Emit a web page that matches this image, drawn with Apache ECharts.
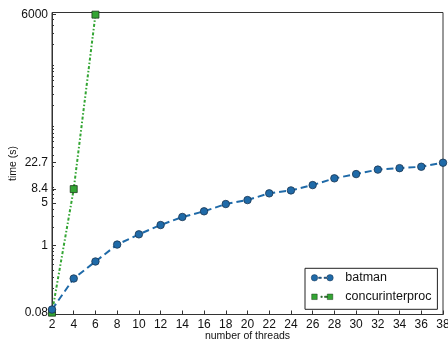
<!DOCTYPE html>
<html><head><meta charset="utf-8">
<script src="https://cdn.jsdelivr.net/npm/echarts@6/dist/echarts.min.js"></script>
<style>html,body{margin:0;padding:0;background:#fff}#c{width:448px;height:340px}</style>
</head><body><div id="c"></div>
<script>
const threads = [2,4,6,8,10,12,14,16,18,20,22,24,26,28,30,32,34,36,38];
const batman = [0.09,0.29,0.55,1.04,1.53,2.17,2.94,3.64,4.79,5.56,7.16,8.0,9.78,12.6,14.8,17.5,18.5,19.5,22.7];
const concurThreads = [2,4,6];
const concur = [0.08,8.4,6000];
const yTickLabels = [0.08,1,5,8.4,22.7,6000];
const yMinorTicks = [0.09,0.2,0.3,0.4,0.5,0.6,0.7,0.8,0.9,2,3,4,6,7,8,9,20,30,40,50,60,70,80,90,200,300,400,500,600,700,800,900,2000,3000,4000,5000];
const xTicks = [2,4,6,8,10,12,14,16,18,20,22,24,26,28,30,32,34,36,38];

const FONT = 'Liberation Sans';
const blue = '#1f6aa8', green = '#33a533';
const circIcon = 'path://M0,3.5 A3.5,3.5 0 1,0 7,3.5 A3.5,3.5 0 1,0 0,3.5 Z M8,2.75 L11,2.75 L11,4.25 L8,4.25 Z M14,2.75 L18,2.75 L18,4.25 L14,4.25 Z M17,3.5 A3.5,3.5 0 1,0 24,3.5 A3.5,3.5 0 1,0 17,3.5 Z';
const sqIcon = 'path://M0.5,0.5 L6.5,0.5 L6.5,6.5 L0.5,6.5 Z M10.5,2.75 L12,2.75 L12,4.25 L10.5,4.25 Z M14.5,2.75 L17.5,2.75 L17.5,4.25 L14.5,4.25 Z M17.5,0.5 L23.5,0.5 L23.5,6.5 L17.5,6.5 Z M0,0 L0.01,0 L0.01,0.01 Z M24,7 L23.99,7 L23.99,6.99 Z';

const chart = echarts.init(document.getElementById('c'), null, {renderer:'canvas'});
chart.setOption({
  animation: false,
  backgroundColor: '#fff',
  textStyle: {fontFamily: FONT},
  grid: {left: 52, right: 5, top: 12.5, bottom: 25.5, containLabel: false, outerBoundsMode: 'none',
    show: true, borderColor: '#333', borderWidth: 1, backgroundColor: 'transparent'},
  xAxis: {
    type: 'value', min: 2, max: 38, interval: 2,
    name: 'number of threads', nameLocation: 'middle', nameGap: 16.5, nameMoveOverlap: false,
    nameTextStyle: {fontFamily: FONT, fontSize: 10.5, color: '#111'},
    axisLine: {lineStyle: {color: '#333', width: 1}},
    axisTick: {inside: true, length: 4, lineStyle: {color: '#333'}, customValues: xTicks},
    axisLabel: {fontFamily: FONT, fontSize: 12, color: '#111', margin: 4, customValues: xTicks, hideOverlap: false},
    splitLine: {show: false}
  },
  yAxis: [{
    type: 'log', logBase: 10, min: 0.0747, max: 6500,
    name: 'time (s)', nameLocation: 'middle', nameGap: 33, nameMoveOverlap: false,
    nameTextStyle: {fontFamily: FONT, fontSize: 10.5, color: '#111'},
    axisLine: {show: true, lineStyle: {color: '#333', width: 1}},
    axisTick: {inside: true, length: 4, lineStyle: {color: '#333'}, customValues: yTickLabels},
    axisLabel: {fontFamily: FONT, fontSize: 12, color: '#111', margin: 4, customValues: yTickLabels, hideOverlap: false,
      formatter: v => String(+(+v).toPrecision(6))},
    splitLine: {show: false}
  },{
    type: 'log', logBase: 10, min: 0.0747, max: 6500, position: 'left',
    axisLine: {show: false},
    axisTick: {show: true, inside: true, length: 2, lineStyle: {color: '#333'}, customValues: yMinorTicks},
    axisLabel: {show: false},
    splitLine: {show: false}
  }],
  legend: {
    orient: 'vertical', left: 305, top: 268.3,
    backgroundColor: '#fff', borderColor: '#222', borderWidth: 1, borderRadius: 0,
    padding: [2.5, 6, 5.5, 6], itemGap: 5, itemWidth: 22, itemHeight: 7,
    textStyle: {fontFamily: FONT, fontSize: 12.5, color: '#111', lineHeight: 14, height: 14, padding: [0,0,0,7]},
    data: [
      {name: 'batman', icon: circIcon, itemStyle: {color: blue, borderColor: '#1a3550', borderWidth: 0.5}},
      {name: 'concurinterproc', icon: sqIcon, itemStyle: {color: green, borderColor: '#1e3a1e', borderWidth: 0.5}}
    ]
  },
  series: [{
    name: 'batman', type: 'line', yAxisIndex: 0,
    data: threads.map((t,i) => [t, batman[i]]),
    symbol: 'circle', symbolSize: 7.5,
    lineStyle: {color: blue, width: 2, type: [7,4]},
    itemStyle: {color: blue, borderColor: '#1a3550', borderWidth: 0.8},
    z: 3
  },{
    name: 'concurinterproc', type: 'line', yAxisIndex: 0,
    data: concurThreads.map((t,i) => [t, concur[i]]),
    symbol: 'rect', symbolSize: 7,
    lineStyle: {color: green, width: 2, type: [3,2,1.5,2]},
    itemStyle: {color: green, borderColor: '#1e3a1e', borderWidth: 0.8},
    z: 2
  }]
});
</script></body></html>
